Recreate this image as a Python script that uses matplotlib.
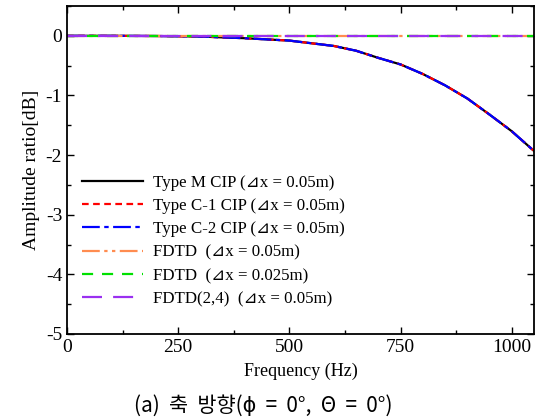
import matplotlib
matplotlib.use("Agg")
import matplotlib.pyplot as plt
from matplotlib.ticker import MultipleLocator

# values
freq = [0, 100, 200, 300, 400, 500, 600, 650, 700, 750, 800, 850, 900, 950, 1000, 1050]
cip_m = [0, 0, -0.003, -0.012, -0.04, -0.08, -0.17, -0.25, -0.37, -0.48, -0.64, -0.83, -1.05, -1.32, -1.60, -1.93]
cip_c1 = cip_m
cip_c2 = cip_m
fdtd_flat = [0.0] * len(freq)

labels = ["Type M CIP (⊿x = 0.05m)",
          "Type C-1 CIP (⊿x = 0.05m)",
          "Type C-2 CIP (⊿x = 0.05m)",
          "FDTD  (⊿x = 0.05m)",
          "FDTD  (⊿x = 0.025m)",
          "FDTD(2,4)  (⊿x = 0.05m)"]

serif = ["Liberation Serif", "DejaVu Serif", "DejaVu Sans"]
plt.rcParams["font.family"] = serif
plt.rcParams["axes.unicode_minus"] = False

fig = plt.figure(figsize=(5.42, 4.2), dpi=100)
ax = fig.add_axes([0.1236, 0.2048, 0.8616, 0.7809])

ax.plot(freq, cip_m, color="black", lw=1.6, ls="-", label=labels[0])
ax.plot(freq, cip_c1, color="red", lw=1.6, ls=(0, (3, 2)), label=labels[1])
ax.plot(freq, cip_c2, color="blue", lw=1.6, ls=(0, (8, 2, 2, 2)), label=labels[2])
ax.plot(freq, fdtd_flat, color="#ff8c50", lw=1.6, ls=(0, (8, 2, 1.5, 2, 1.5, 2)), label=labels[3])
ax.plot(freq, fdtd_flat, color="#00e000", lw=1.6, ls=(0, (5, 4)), label=labels[4])
ax.plot(freq, fdtd_flat, color="#9a30f0", lw=1.6, ls=(0, (9, 5)), label=labels[5])

ax.set_xlim(0, 1050)
ax.set_ylim(-5, 0.5)
ax.xaxis.set_major_locator(MultipleLocator(250))
ax.xaxis.set_minor_locator(MultipleLocator(125))
ax.yaxis.set_major_locator(MultipleLocator(1))
ax.yaxis.set_minor_locator(MultipleLocator(0.5))
ax.tick_params(which="both", direction="in", top=True, right=True, labelsize=14)
ax.tick_params(which="major", length=5, width=1)
ax.tick_params(which="minor", length=3, width=1)
for s in ax.spines.values():
    s.set_linewidth(1.3)

ax.set_xlabel("Frequency (Hz)", fontsize=13, labelpad=5)
ax.set_ylabel("Amplitude ratio[dB]", fontsize=14, labelpad=4)

leg = ax.legend(loc="lower left", bbox_to_anchor=(0.0, 0.035), frameon=False,
                fontsize=12.2, handlelength=3.6, labelspacing=0.43, handletextpad=0.6)

fig.text(0.485, 0.035, "(a)  축  방향(ϕ  =  0°,  Θ  =  0°)", ha="center", va="center",
         fontsize=15, family=["Noto Sans CJK KR", "DejaVu Sans"])

fig.savefig("out.png", dpi=100)
